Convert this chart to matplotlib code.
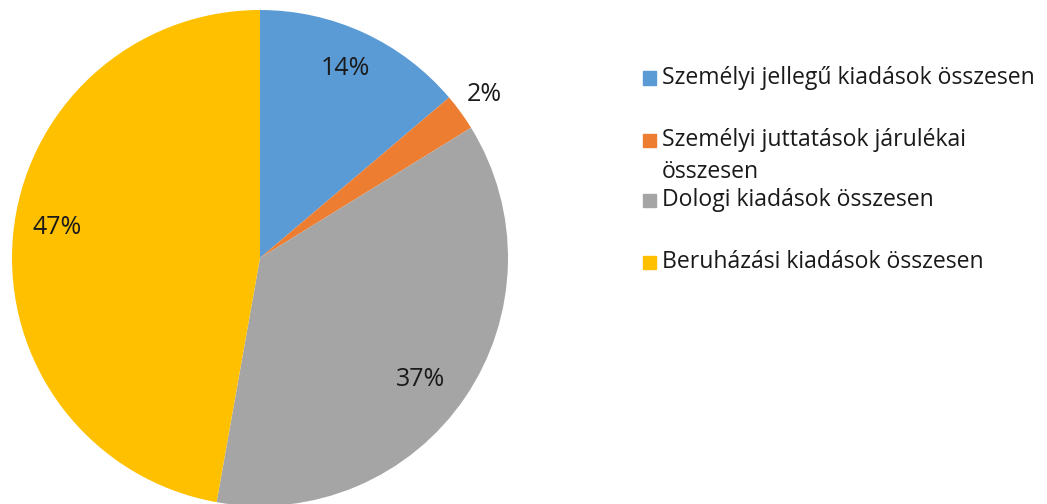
import matplotlib
matplotlib.use("Agg")
import matplotlib.pyplot as plt
from matplotlib.patches import Rectangle

categories = ["Személyi jellegű kiadások összesen",
              "Személyi juttatások járulékai\nösszesen",
              "Dologi kiadások összesen",
              "Beruházási kiadások összesen"]
values = [13.8, 2.4, 36.6, 47.2]
colors = ["#5B9BD5", "#ED7D31", "#A5A5A5", "#FFC000"]

plt.rcParams['font.family'] = ['Open Sans', 'DejaVu Sans']

W, H = 1047, 504
fig = plt.figure(figsize=(W / 100, H / 100), dpi=100)

cx, cy, r = 260, 258, 248
ax = fig.add_axes([(cx - r) / W, (H - cy - r) / H, 2 * r / W, 2 * r / H])
wedges, texts, autotexts = ax.pie(values, colors=colors, startangle=90, counterclock=False,
                                  autopct='%.0f%%', pctdistance=0.82,
                                  wedgeprops=dict(linewidth=0),
                                  textprops=dict(fontsize=18, color="#1a1a1a"))
# outside label for small slice
x, y = autotexts[1].get_position()
f = 1.12 / 0.82
autotexts[1].set_position((x * f, y * f))
x, y = autotexts[0].get_position()
autotexts[0].set_position((x, y + 0.02))
x, y = autotexts[2].get_position()
autotexts[2].set_position((x - 0.03, y - 0.03))
x, y = autotexts[3].get_position()
autotexts[3].set_position((x, y + 0.05))
ax.set_xlim(-1, 1)
ax.set_ylim(-1, 1)
ax.set_aspect('equal')
ax.axis('off')

# legend (manual)
leg_y = [78, 140, 200, 262]
line_gap = 32
for lab, col, yy in zip(categories, colors, leg_y):
    fig.patches.append(Rectangle((643 / W, (H - yy - 6.5) / H), 13 / W, 13 / H,
                                 transform=fig.transFigure, color=col))
    for i, line in enumerate(lab.split('\n')):
        fig.text(662 / W, (H - yy - i * line_gap) / H, line, fontsize=16.6, color="#1a1a1a",
                 va='center', ha='left', transform=fig.transFigure)

fig.savefig("out.png", dpi=100)
